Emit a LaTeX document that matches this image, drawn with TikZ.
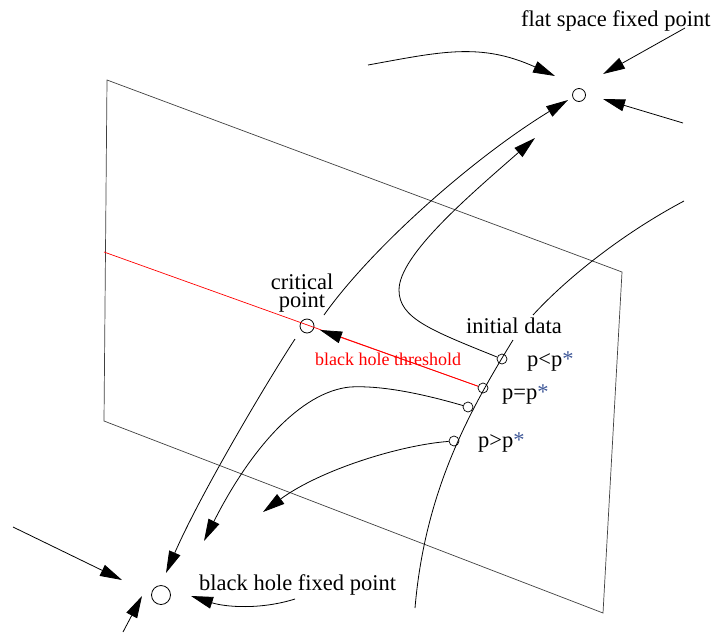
\documentclass[tikz,border=0pt]{standalone}
\usepackage{fontspec}
\setmainfont{Liberation Serif}
\usetikzlibrary{arrows.meta}
\definecolor{astc}{rgb}{0.25,0.35,0.6}
\begin{document}
\begin{tikzpicture}[x=1pt,y=-1pt,
  ln/.style={line width=0.8pt, black},
  planeln/.style={line width=0.7pt, black!75},
  redln/.style={line width=0.7pt, red},
  arr/.style={ln, -{Triangle[length=22pt,width=12pt]}},
  fp/.style={circle, draw, line width=0.8pt, inner sep=0pt, minimum size=#1},
  sp/.style={circle, draw, line width=0.7pt, inner sep=0pt, minimum size=10pt},
  lbl/.style={font=\fontsize{22.5}{24}\selectfont, inner sep=0pt, anchor=base west},
  redlbl/.style={font=\fontsize{18}{20}\selectfont, text=red, inner sep=0pt, anchor=base west}]
\useasboundingbox (0,0) rectangle (719,635);

% plane
\coordinate (c1) at (107,80);
\coordinate (c2) at (622,272);
\coordinate (c3) at (603,613);
\coordinate (c4) at (104,421);
\draw[planeln] (c1) -- (c2) -- (c3) -- (c4) -- cycle;

% fixed points
\node[fp=13pt] (ff) at (579,95) {};
\node[fp=14pt] (cp) at (307,326) {};
\node[fp=19pt] (bh) at (161,595) {};

% initial data points
\node[sp] (q1) at (502,359) {};
\node[sp] (q2) at (483,388) {};
\node[sp] (q3) at (468,407) {};
\node[sp] (q4) at (454,441) {};

% initial data curve
\coordinate (i1) at (684,201);
\coordinate (i2) at (533,315);
\coordinate (i3) at (513,340);
\coordinate (i4) at (415,608);
\draw[ln] (i1) .. controls (620,235) and (565,280) .. (i2);
\draw[ln] (i3) .. controls (470,410) and (425,490) .. (i4);

% black hole threshold
\coordinate (rs) at (104,252);
\coordinate (rt) at (320,330);
\draw[redln] (rs) -- (q2);
\draw[redln, -{Triangle[length=22pt,width=12pt,black]}] (q2) -- (rt);

% trajectories
\coordinate (a0) at (324,315);
\coordinate (at) at (568,100);
\draw[arr] (a0) .. controls (370,250) and (470,160) .. (at);

\coordinate (bt) at (535,138);
\draw[arr] (q1) .. controls (430,330) and (399,318) .. (399,290)
               .. controls (399,255) and (470,195) .. (bt);

\coordinate (ct) at (204,541);
\draw[arr] (q3) .. controls (430,396) and (385,385) .. (350,387)
               .. controls (300,392) and (250,450) .. (ct);

\coordinate (d0) at (295,339);
\coordinate (dt) at (166,573);
\draw[arr] (d0) .. controls (265,385) and (200,495) .. (dt);

\coordinate (et) at (263,512);
\draw[arr] (q4) .. controls (400,445) and (320,470) .. (et);

% flows into flat space fixed point
\coordinate (t1s) at (368,65);
\coordinate (t1e) at (555,76);
\draw[arr] (t1s) .. controls (440,52) and (480,42) .. (t1e);
\coordinate (t2s) at (685,28);
\coordinate (t2e) at (603,74);
\draw[arr] (t2s) -- (t2e);
\coordinate (t3s) at (683,123);
\coordinate (t3e) at (603,99);
\draw[arr] (t3s) -- (t3e);

% flows into black hole fixed point
\coordinate (b1s) at (13,527);
\coordinate (b1e) at (122,580);
\draw[arr] (b1s) -- (b1e);
\coordinate (b2s) at (123,632);
\coordinate (b2e) at (142,596);
\draw[arr] (b2s) -- (b2e);
\coordinate (b3s) at (295,599);
\coordinate (b3e) at (191,596);
\draw[arr] (b3s) .. controls (260,610) and (225,607) .. (b3e);

% labels
\node[lbl] (lff) at (521,26) {flat space fixed point};
\node[lbl] (lbh) at (199,590) {black hole fixed point};
\node[font=\fontsize{22.5}{18.5}\selectfont, inner sep=0pt, align=center, anchor=center] (lcp) at (302,293) {critical\\point};
\node[lbl] (lid) at (466,333) {initial data};
\node[lbl] (l1) at (527,366) {p<p\textcolor{astc}{*}};
\node[lbl] (l2) at (502,399) {p=p\textcolor{astc}{*}};
\node[lbl] (l3) at (478,447) {p>p\textcolor{astc}{*}};
\node[redlbl] (lth) at (315,365) {black hole threshold};
\end{tikzpicture}
\end{document}
